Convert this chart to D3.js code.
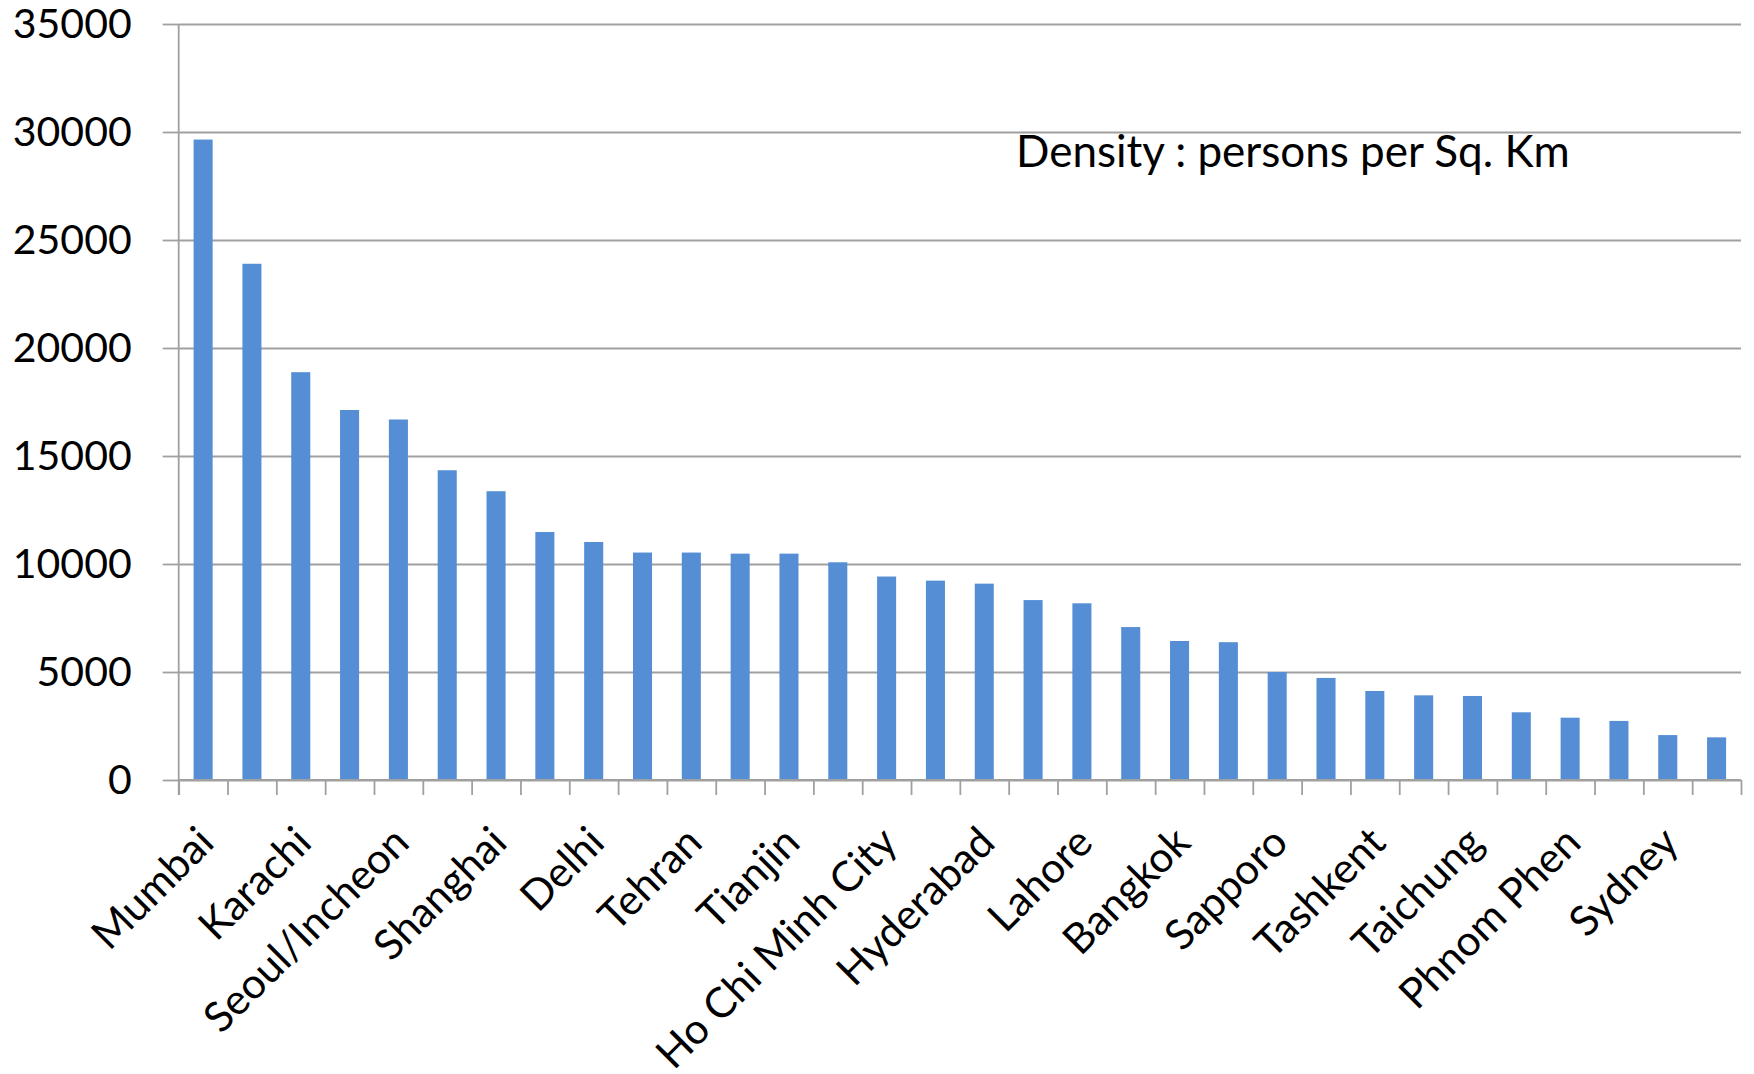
<!DOCTYPE html>
<html>
<head>
<meta charset="utf-8">
<script src="https://cdn.jsdelivr.net/npm/d3@7"></script>
<style>
  html, body { margin: 0; padding: 0; background: #ffffff; }
  svg { display: block; font-family: Lato, "Open Sans", sans-serif; }
</style>
</head>
<body>
<svg id="chart" width="1754" height="1074"></svg>
<script>
// Population density of cities, persons per square kilometre
const cities = [
  "Mumbai", "Kolkata", "Karachi", "Chennai", "Seoul/Incheon", "Bangalore",
  "Shanghai", "Ahmedabad", "Delhi", "Pune", "Tehran", "Beijing",
  "Tianjin", "Jakarta", "Ho Chi Minh City", "Manila", "Hyderabad", "Guangzhou",
  "Lahore", "Hanoi", "Bangkok", "Singapore", "Sapporo", "Osaka",
  "Tashkent", "Taipei", "Taichung", "Tokyo", "Phnom Phen", "Kuala Lumpur",
  "Sydney", "Melbourne"
];
const density = [
  29650, 23900, 18880, 17130, 16690, 14340,
  13370, 11480, 11020, 10530, 10530, 10480,
  10480, 10080, 9420, 9230, 9090, 8330,
  8180, 7080, 6435, 6380, 5000, 4725,
  4120, 3920, 3890, 3135, 2885, 2735,
  2080, 1975
];
// Only every other city name is printed under the axis
const labelledCities = cities.filter((d, i) => i % 2 === 0);
const yTicks = [0, 5000, 10000, 15000, 20000, 25000, 30000, 35000];
const seriesName = "Density : persons per Sq. Km";

const svg = d3.select("#chart");
const plotLeft = 178.7, plotRight = 1741, plotTop = 24, plotBottom = 780;
const gridColor = "#a0a0a0";
const barColor = "#558ed5";

const x = d3.scaleBand()
  .domain(cities)
  .range([plotLeft, plotRight])
  .paddingInner(0.61)
  .paddingOuter(0.305);

const y = d3.scaleLinear()
  .domain([0, 35000])
  .range([plotBottom, plotTop]);

// Category boundaries, used for the tick marks below the axis
const slots = d3.scaleLinear().domain([0, cities.length]).range([plotLeft, plotRight]);

// Horizontal gridlines
svg.append("g")
  .attr("transform", `translate(${plotLeft},0)`)
  .call(d3.axisLeft(y).tickValues(yTicks).tickSize(-(plotRight - plotLeft)).tickFormat(""))
  .call(g => g.select(".domain").remove())
  .call(g => g.selectAll("line").attr("stroke", gridColor).attr("stroke-width", 1.8));

// Value axis: short outer ticks and labels
svg.append("g")
  .attr("transform", `translate(${plotLeft},0)`)
  .call(d3.axisLeft(y).tickValues(yTicks).tickSize(16).tickPadding(31).tickFormat(d3.format("d")))
  .call(g => g.select(".domain").remove())
  .call(g => g.selectAll("line").attr("stroke", gridColor).attr("stroke-width", 1.8))
  .call(g => g.selectAll("text")
    .attr("font-size", 41)
    .attr("font-family", "Lato, 'Open Sans', sans-serif")
    .attr("fill", "#000"));

// Vertical axis line, running down to the tick length
svg.append("line")
  .attr("x1", plotLeft).attr("x2", plotLeft)
  .attr("y1", y(35000)).attr("y2", plotBottom + 15)
  .attr("stroke", gridColor).attr("stroke-width", 1.8);

// Bars
svg.append("g")
  .selectAll("rect")
  .data(cities.map((c, i) => ({ city: c, value: density[i] })))
  .join("rect")
  .attr("x", d => x(d.city))
  .attr("width", x.bandwidth())
  .attr("y", d => y(d.value))
  .attr("height", d => y(0) - y(d.value))
  .attr("fill", barColor);

// Category axis: tick marks at category boundaries
svg.append("g")
  .attr("transform", `translate(0,${plotBottom})`)
  .call(d3.axisBottom(slots).tickValues(d3.range(cities.length + 1)).tickSize(15).tickFormat(""))
  .call(g => g.select(".domain")
    .attr("d", `M${plotLeft},0H${plotRight}`)
    .attr("stroke", gridColor).attr("stroke-width", 1.8))
  .call(g => g.selectAll("line").attr("stroke", gridColor).attr("stroke-width", 1.8));

// Category labels, rotated 45 degrees
svg.append("g")
  .selectAll("text")
  .data(labelledCities)
  .join("text")
  .attr("transform", d => `translate(${x(d) + x.bandwidth() / 2 - 9},823) rotate(-45)`)
  .attr("text-anchor", "end")
  .attr("dy", "0.74em")
  .attr("font-size", 42)
  .attr("fill", "#000")
  .text(d => d);

// Series caption inside the plot
svg.append("text")
  .attr("x", 1016)
  .attr("y", 167)
  .attr("font-size", 44)
  .attr("fill", "#000")
  .text(seriesName);
</script>
</body>
</html>
